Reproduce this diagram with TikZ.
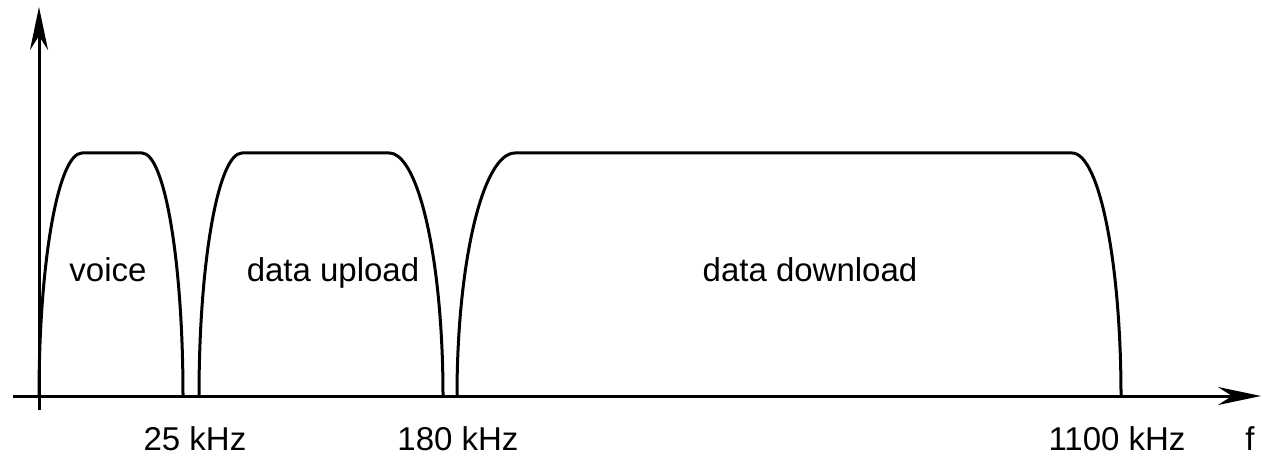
\documentclass[tikz,border=0pt]{standalone}
\usepackage{fontspec}
\setmainfont{Liberation Sans}
\usetikzlibrary{arrows.meta}
\tikzset{
    axis/.style={line width=1.5pt, -{Stealth[length=21.5pt, width=9pt, inset=7pt]}},
    band/.style={line width=1.5pt, line join=round},
    bandlabel/.style={anchor=base, inner sep=0pt, font=\fontsize{16.5}{20}\selectfont}
}

\begin{document}
\begin{tikzpicture}[x=0.5pt, y=0.5pt]
		\useasboundingbox (0,0) rectangle (1262,455);
		% axes
		\coordinate (xstart) at (13,59);
		\coordinate (xend) at (1261,59);
		\coordinate (ystart) at (39,45);
		\coordinate (yend) at (39,448);
		\draw [axis] (xstart) -- (xend);
		\draw [axis] (ystart) -- (yend);
		% bands
		\draw [band] (39,59) arc [start angle=180, end angle=90, x radius=43, y radius=243]
		-- (142,302) arc [start angle=90, end angle=0, x radius=41, y radius=243];
		\draw [band] (199,59) arc [start angle=180, end angle=90, x radius=43, y radius=243]
		-- (389,302) arc [start angle=90, end angle=0, x radius=54, y radius=243];
		\draw [band] (457,59) arc [start angle=180, end angle=90, x radius=58, y radius=243]
		-- (1072,302) arc [start angle=90, end angle=0, x radius=49, y radius=243];
		% labels
		\node [bandlabel] (voice) at (108,173) {voice};
		\node [bandlabel] (upload) at (333,173) {data upload};
		\node [bandlabel] (download) at (810,173) {data download};
		\node [bandlabel] (f25) at (195,5) {25 kHz};
		\node [bandlabel] (f180) at (458,5) {180 kHz};
		\node [bandlabel] (f1100) at (1117,5) {1100 kHz};
		\node [bandlabel] (freq) at (1250,5) {f};
	\end{tikzpicture}
\end{document}
